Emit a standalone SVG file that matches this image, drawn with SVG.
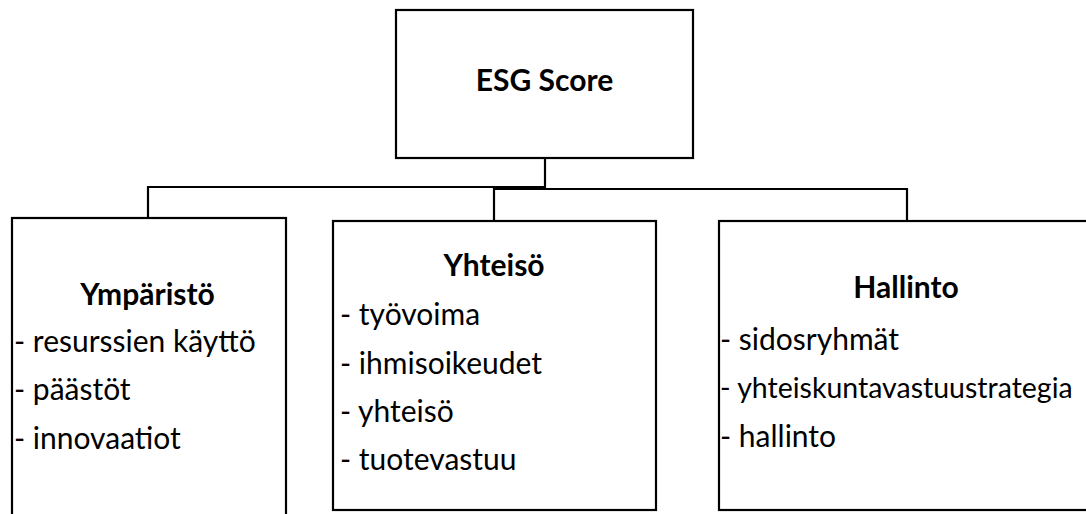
<svg xmlns="http://www.w3.org/2000/svg" width="1086" height="514" viewBox="0 0 1086 514">
<style>
.box{fill:#fff;stroke:#000;stroke-width:2.2}
.con{fill:none;stroke:#000;stroke-width:2.2}
.t{font-family:Lato,"Open Sans","Liberation Sans",sans-serif;font-size:30px;fill:#000}
.h{font-family:Lato,"Open Sans","Liberation Sans",sans-serif;font-size:30px;font-weight:bold;fill:#000;text-anchor:middle}
</style>
<rect width="1086" height="514" fill="#fff"/>
<g id="connectors">
<path class="con" d="M545,158 V188"/>
<path class="con" d="M148,218 V187 H546"/>
<path class="con" d="M494,221 V189 H907 V221"/>
</g>
<g id="esg">
<rect class="box" x="396" y="10" width="297" height="148"/>
<text class="h" x="544.5" y="91">ESG Score</text>
</g>
<g id="ymparisto">
<rect class="box" x="12" y="218" width="274" height="310"/>
<text class="h" x="147.5" y="305">Ympäristö</text>
<text class="t" x="14" y="352">- resurssien käyttö</text>
<text class="t" x="14" y="400">- päästöt</text>
<text class="t" x="14" y="449">- innovaatiot</text>
</g>
<g id="yhteiso">
<rect class="box" x="333" y="221" width="323" height="289"/>
<text class="h" x="494" y="276">Yhteisö</text>
<text class="t" x="340" y="325">- työvoima</text>
<text class="t" x="340" y="374">- ihmisoikeudet</text>
<text class="t" x="340" y="422">- yhteisö</text>
<text class="t" x="340" y="470">- tuotevastuu</text>
</g>
<g id="hallinto">
<rect class="box" x="719" y="221" width="380" height="289"/>
<text class="h" x="906" y="298">Hallinto</text>
<text class="t" x="720" y="350">- sidosryhmät</text>
<text class="t" x="720" y="398" style="font-size:28.5px">- yhteiskuntavastuustrategia</text>
<text class="t" x="720" y="447">- hallinto</text>
</g>
</svg>
